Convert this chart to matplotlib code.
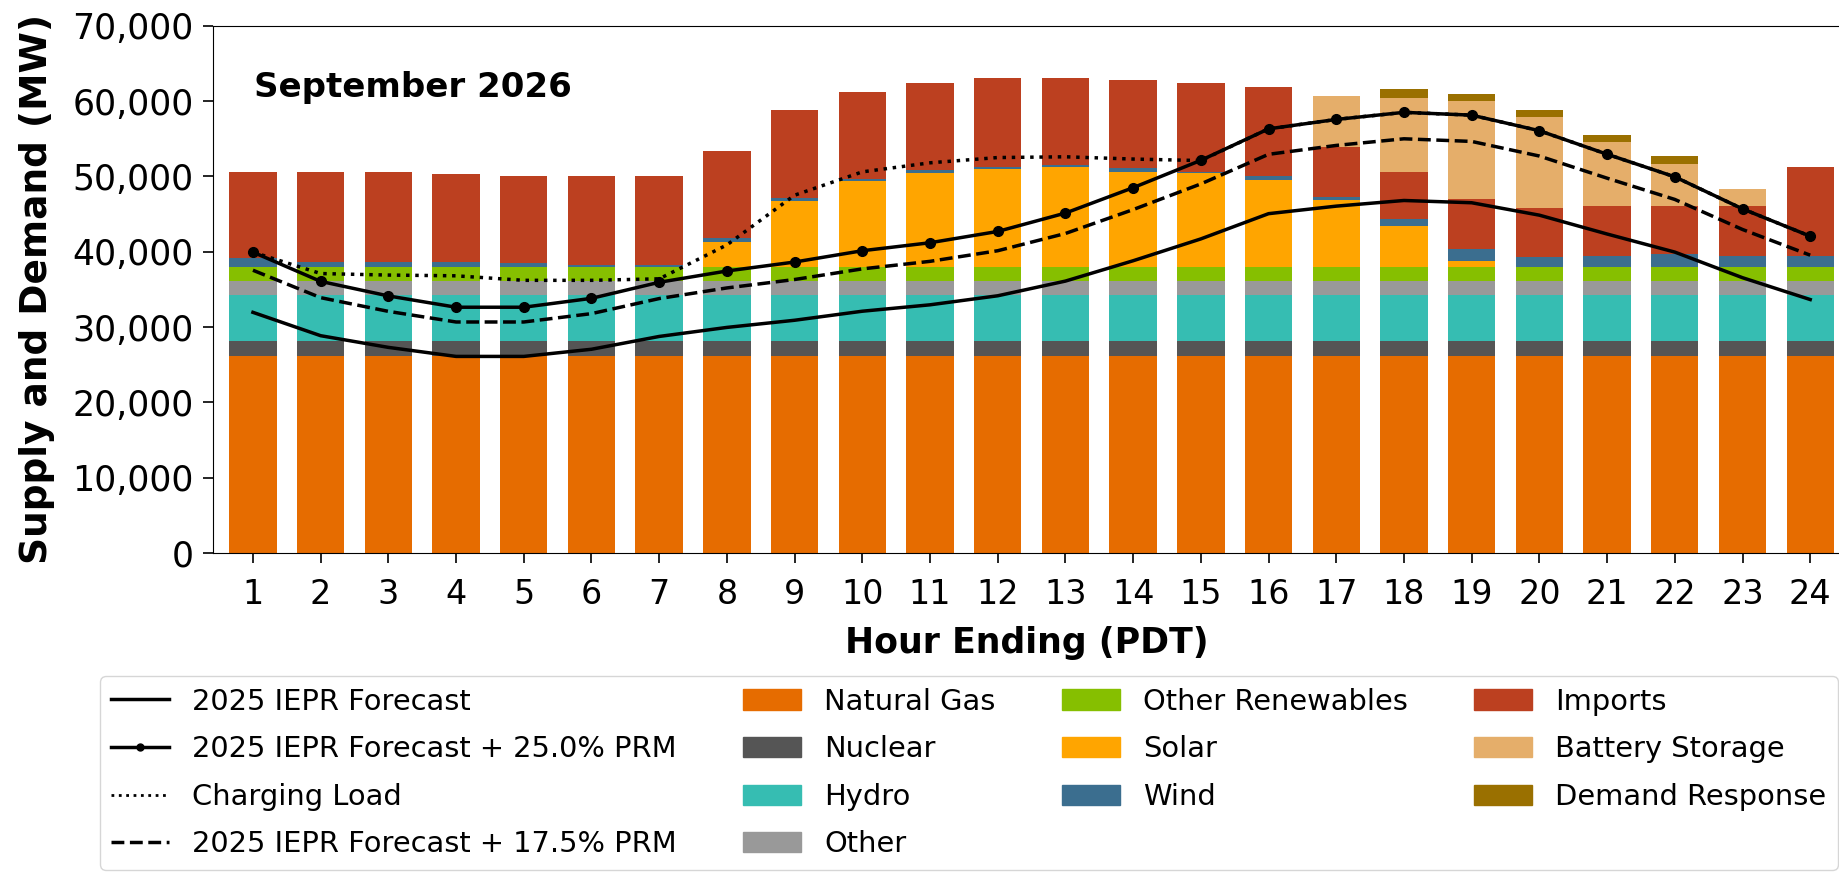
import numpy as np
import matplotlib.pyplot as plt
from matplotlib.patches import Patch
from matplotlib.lines import Line2D
from matplotlib.ticker import FuncFormatter

hours = np.arange(1, 25)

# supply stack (MW), bottom to top
natural_gas = [26100] * 24
nuclear = [2100] * 24
hydro = [6100] * 24
other = [1750] * 24
other_renewables = [1900] * 24
solar = [0, 0, 0, 0, 0, 0, 0, 3290, 8790, 11490, 12440, 13010,
         13290, 12670, 12440, 11580, 8890, 5480, 830, 0, 0, 0, 0, 0]
wind = [1210, 740, 740, 740, 500, 260, 260, 620, 330, 240, 470, 230,
        280, 480, 230, 480, 470, 850, 1560, 1300, 1450, 1770, 1450, 1450]
imports = [11420, 11890, 11890, 11600, 11560, 11800, 11800, 11470, 11750, 11560, 11570, 11900,
           11570, 11660, 11810, 11850, 6640, 6300, 6640, 6550, 6630, 6310, 6630, 11850]
battery = [0, 0, 0, 0, 0, 0, 0, 0, 0, 0, 0, 0,
           0, 0, 0, 0, 6730, 9760, 13020, 12080, 8540, 5550, 2230, 0]
demand_response = [0, 0, 0, 0, 0, 0, 0, 0, 0, 0, 0, 0,
                   0, 0, 0, 0, 0, 1280, 970, 950, 940, 1180, 0, 0]

# demand lines (MW)
forecast = [31950, 28850, 27300, 26100, 26100, 27050, 28750, 29950, 30900, 32100, 32950, 34150,
            36100, 38800, 41700, 45050, 46050, 46800, 46500, 44850, 42350, 39950, 36550, 33650]
prm_25 = [39940, 36060, 34130, 32630, 32630, 33810, 35940, 37440, 38630, 40130, 41190, 42690,
          45130, 48500, 52130, 56310, 57560, 58500, 58130, 56060, 52940, 49940, 45690, 42060]
prm_175 = [37540, 33900, 32080, 30670, 30670, 31780, 33780, 35190, 36310, 37720, 38720, 40130,
           42420, 45590, 49000, 52930, 54110, 54990, 54640, 52700, 49760, 46940, 42950, 39540]
charging_load = [39940, 37100, 36900, 36800, 36200, 36200, 36400, 40900, 47500, 50600, 51800, 52500,
                 52600, 52300, 52100, 56310, 57560, 58500, 58130, 56060, 52940, 49940, 45690, 42060]

layers = [
    ("Natural Gas", natural_gas, "#e66c00"),
    ("Nuclear", nuclear, "#555555"),
    ("Hydro", hydro, "#36bdb2"),
    ("Other", other, "#999999"),
    ("Other Renewables", other_renewables, "#86bf00"),
    ("Solar", solar, "#ffa500"),
    ("Wind", wind, "#3b6e8f"),
    ("Imports", imports, "#bc4020"),
    ("Battery Storage", battery, "#e5ae6a"),
    ("Demand Response", demand_response, "#9a7000"),
]

fig = plt.figure(figsize=(18.4, 8.72), dpi=100)
ax = fig.add_axes([213 / 1840, 0.3658, 1627 / 1840, 0.6047])

bottom = np.zeros(24)
for name, vals, col in layers:
    vals = np.array(vals, dtype=float)
    ax.bar(hours, vals, width=0.7, bottom=bottom, color=col, zorder=2)
    bottom += vals

ax.plot(hours, forecast, color="black", lw=2.5, zorder=4)
ax.plot(hours, prm_25, color="black", lw=2.5, marker="o", ms=7, zorder=4)
ax.plot(hours, charging_load, color="black", lw=2.5, ls=":", zorder=3)
ax.plot(hours, prm_175, color="black", lw=2.5, ls="--", zorder=4)

ax.set_xlim(0.41, 24.44)
ax.set_ylim(0, 70000)
ax.set_xticks(hours)
ax.set_yticks(np.arange(0, 70001, 10000))
ax.yaxis.set_major_formatter(FuncFormatter(lambda v, p: f"{int(v):,}"))
ax.tick_params(axis="both", length=7, width=1.2)
ax.tick_params(axis="y", labelsize=25, pad=7)
ax.tick_params(axis="x", labelsize=24, pad=11)
ax.set_xlabel("Hour Ending (PDT)", fontsize=25, fontweight="bold", labelpad=11)
ax.set_ylabel("Supply and Demand (MW)", fontsize=27, fontweight="bold")
ax.yaxis.set_label_coords(-0.097, 0.5)
ax.text(0.025, 0.883, "September 2026", transform=ax.transAxes, fontsize=24.5,
        fontweight="bold", va="center", ha="left")

line_handles = [
    Line2D([], [], color="black", lw=2.5, label="2025 IEPR Forecast"),
    Line2D([], [], color="black", lw=2.5, marker="o", ms=5, label="2025 IEPR Forecast + 25.0% PRM"),
    Line2D([], [], color="black", lw=2, ls=":", label="Charging Load"),
    Line2D([], [], color="black", lw=2.5, ls="--", label="2025 IEPR Forecast + 17.5% PRM"),
]
patch_handles = [Patch(color=col, label=name) for name, vals, col in layers]

fig.legend(handles=line_handles + patch_handles, ncol=4, loc="upper left",
           bbox_to_anchor=(0.0543, 0.2248), borderaxespad=0, fontsize=20.8,
           labelspacing=0.68, columnspacing=2.3, handlelength=2.0, handletextpad=0.8)

fig.savefig("out.png", dpi=100)
